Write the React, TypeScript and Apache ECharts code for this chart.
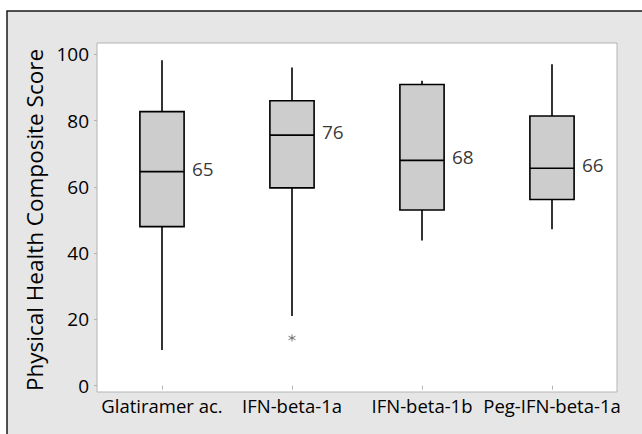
import React, { useEffect, useRef } from "react";
import * as echarts from "echarts";

const categories = ["Glatiramer ac.", "IFN-beta-1a", "IFN-beta-1b", "Peg-IFN-beta-1a"];
const whiskerLow = [10.8, 21.0, 43.8, 47.2];
const q1Values = [48.0, 59.7, 53.0, 56.2];
const medians = [64.6, 75.6, 68.0, 65.6];
const q3Values = [82.7, 86.0, 90.9, 81.4];
const whiskerHigh = [98.2, 96.0, 92.0, 97.0];
const outliers = [[1, 14.4]];
const yTicks = [0, 20, 40, 60, 80, 100];

const FONT = "'Open Sans', 'Noto Sans', sans-serif";

export default function App() {
  const ref = useRef<HTMLDivElement>(null);
  useEffect(() => {
    if (!ref.current) return;
    const chart = echarts.init(ref.current, null, { renderer: "svg" });
    const boxData = categories.map((_, i) => [i, whiskerLow[i], q1Values[i], medians[i], q3Values[i], whiskerHigh[i]]);
    const medianData = categories.map((_, i) => [i, medians[i]]);
    const option: any = {
      animation: false,
      backgroundColor: "#ffffff",
      textStyle: { fontFamily: FONT },
      graphic: [
        {
          type: "rect",
          z: -10,
          silent: true,
          shape: { x: 7, y: 11, width: 700, height: 500 },
          style: { fill: "#e6e6e6", stroke: "#1a1a1a", lineWidth: 1.5 },
        },
        {
          type: "rect",
          z: -9,
          silent: true,
          shape: { x: 97, y: 43, width: 520, height: 349 },
          style: { fill: "#ffffff", stroke: "#b4b4b4", lineWidth: 1 },
        },
      ],
      grid: { left: 97, right: 25, top: 54.3, bottom: 48.3, show: false },
      xAxis: {
        type: "category",
        data: categories,
        boundaryGap: true,
        offset: 6.3,
        axisLine: { show: false },
        axisTick: { show: true, alignWithLabel: true, length: 4, lineStyle: { color: "#b4b4b4" } },
        axisLabel: { fontSize: 18.5, color: "#000", margin: 4, fontFamily: FONT, interval: 0 },
      },
      yAxis: {
        type: "value",
        min: yTicks[0],
        max: yTicks[yTicks.length - 1],
        interval: 20,
        name: "Physical Health Composite Score",
        nameLocation: "middle",
        nameGap: 46,
        nameTextStyle: { fontSize: 22.5, color: "#000", fontFamily: FONT },
        axisLine: { show: false },
        axisTick: { show: true, length: 3, lineStyle: { color: "#b4b4b4" } },
        axisLabel: { fontSize: 19, color: "#000", margin: 8, fontFamily: FONT },
        splitLine: { show: false },
      },
      series: [
        {
          type: "custom",
          data: boxData,
          encode: { x: 0, y: [1, 2, 3, 4, 5] },
          renderItem: (params: any, api: any) => {
            const x = api.value(0);
            const lo = api.coord([x, api.value(1)]);
            const q1 = api.coord([x, api.value(2)]);
            const med = api.coord([x, api.value(3)]);
            const q3 = api.coord([x, api.value(4)]);
            const hi = api.coord([x, api.value(5)]);
            const half = api.size([1, 0])[0] * 0.17;
            const lw = 1.6;
            return {
              type: "group",
              children: [
                { type: "line", shape: { x1: lo[0], y1: lo[1], x2: q1[0], y2: q1[1] }, style: { stroke: "#000", lineWidth: lw } },
                { type: "line", shape: { x1: q3[0], y1: q3[1], x2: hi[0], y2: hi[1] }, style: { stroke: "#000", lineWidth: lw } },
                {
                  type: "rect",
                  shape: { x: q3[0] - half, y: q3[1], width: half * 2, height: q1[1] - q3[1] },
                  style: { fill: "#cdcdcd", stroke: "#000", lineWidth: lw },
                },
                { type: "line", shape: { x1: med[0] - half, y1: med[1], x2: med[0] + half, y2: med[1] }, style: { stroke: "#000", lineWidth: lw } },
              ],
            };
          },
        },
        {
          type: "scatter",
          data: medianData,
          symbolSize: 0,
          silent: true,
          itemStyle: { color: "#000" },
          label: {
            show: true,
            position: "right",
            distance: 30,
            offset: [0, -3],
            fontSize: 19,
            color: "#000",
            fontFamily: FONT,
            formatter: (p: any) => String(Math.round(p.value[1])),
          },
        },
        {
          type: "scatter",
          data: outliers,
          symbol: "path://M0,-5L0,5M-4.33,-2.5L4.33,2.5M-4.33,2.5L4.33,-2.5",
          symbolSize: 7,
          itemStyle: { color: "transparent", borderColor: "#555", borderWidth: 1 },
          silent: true,
        },
      ],
    };
    chart.setOption(option);
    return () => chart.dispose();
  }, []);
  return (
    <div
      ref={ref}
      style={{ position: "fixed", left: 0, top: 0, width: 642, height: 434 }}
    />
  );
}
